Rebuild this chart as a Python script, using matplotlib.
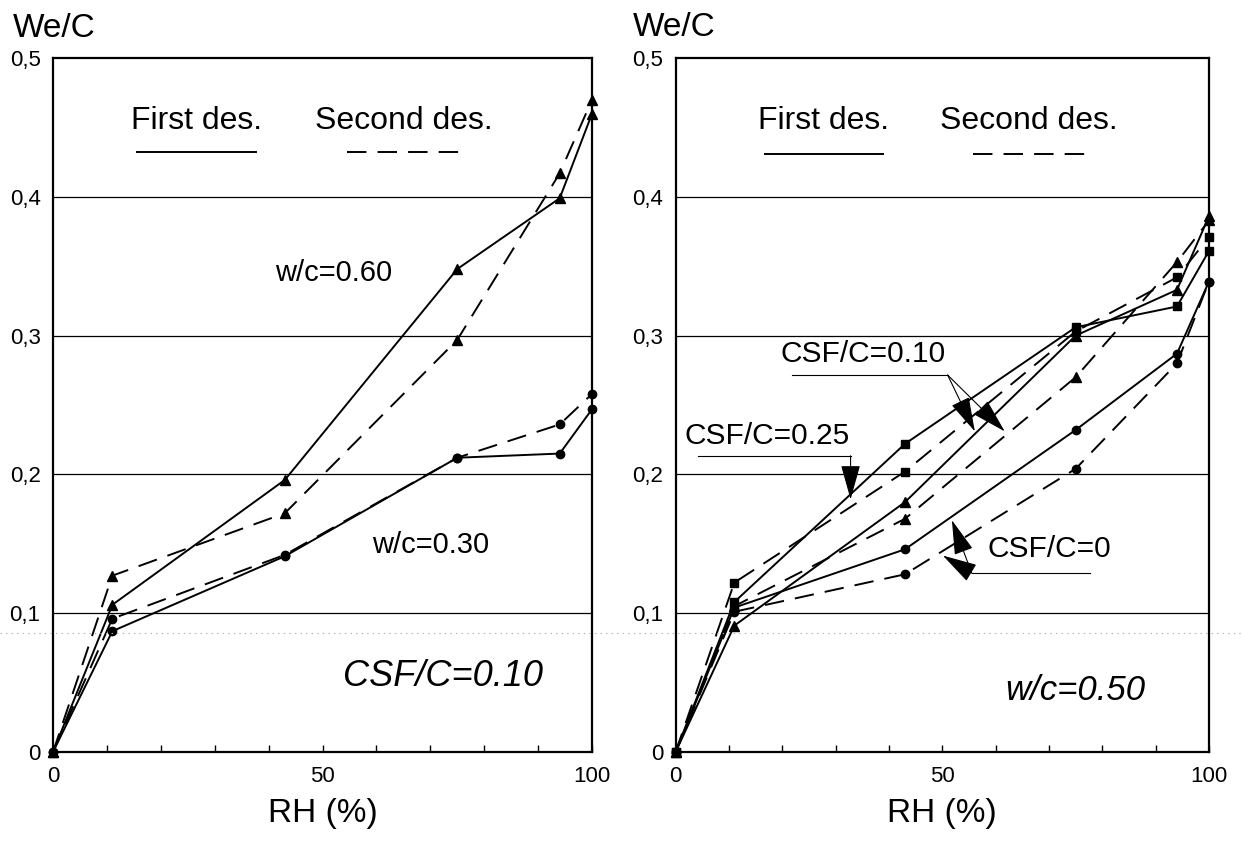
import matplotlib
matplotlib.use('Agg')
import matplotlib.pyplot as plt
from matplotlib.ticker import FixedLocator, MultipleLocator, FuncFormatter
from matplotlib.lines import Line2D

plt.rcParams['font.family'] = ['Liberation Sans', 'DejaVu Sans']
plt.rcParams['lines.scale_dashes'] = False

# left panel: CSF/C = 0.10, two w/c ratios
rh_l = [0, 11, 43, 75, 94, 100]
wc60_first = [0, 0.106, 0.196, 0.348, 0.399, 0.460]
wc60_second = [0, 0.127, 0.172, 0.297, 0.417, 0.470]
wc30_first = [0, 0.087, 0.141, 0.212, 0.215, 0.247]
wc30_second = [0, 0.096, 0.142, 0.212, 0.236, 0.258]

# right panel: w/c = 0.50, three CSF/C ratios
rh_r = [0, 11, 43, 75, 94, 100]
csf0_first = [0, 0.104, 0.146, 0.232, 0.287, 0.339]
csf0_second = [0, 0.101, 0.128, 0.204, 0.280, 0.339]
csf10_first = [0, 0.091, 0.180, 0.300, 0.333, 0.386]
csf10_second = [0, 0.105, 0.168, 0.270, 0.353, 0.383]
csf25_first = [0, 0.108, 0.222, 0.306, 0.321, 0.361]
csf25_second = [0, 0.122, 0.202, 0.303, 0.342, 0.371]

DASH = (0, (14, 8))


def draw(ax, x, y, marker, dashed, ms=7):
    ls = DASH if dashed else '-'
    ax.plot(x, y, color='black', lw=1.4, linestyle=ls, marker=marker,
            ms=ms, clip_on=False, zorder=3)


def setup(ax):
    ax.set_xlim(0, 100)
    ax.set_ylim(0, 0.5)
    ax.xaxis.set_major_locator(FixedLocator([0, 50, 100]))
    ax.xaxis.set_minor_locator(MultipleLocator(10))
    ax.tick_params(axis='x', which='both', direction='in', length=5,
                   width=1, labelsize=16, pad=10)
    ax.tick_params(axis='y', length=0, labelsize=16, pad=9)
    ax.set_yticks([0, 0.1, 0.2, 0.3, 0.4, 0.5])
    ax.yaxis.set_major_formatter(FuncFormatter(
        lambda v, p: '0' if v == 0 else f'{v:.1f}'.replace('.', ',')))
    for g in [0.1, 0.2, 0.3, 0.4]:
        ax.axhline(g, color='black', lw=0.9, zorder=1)
    for s in ax.spines.values():
        s.set_linewidth(1.6)
    ax.set_xlabel('RH (%)', fontsize=24, labelpad=8)


def legend_head(ax, x1, x2, y_txt, y_line):
    ax.text(x1, y_txt, 'First des.', fontsize=23, ha='center', va='center')
    ax.text(x2, y_txt, 'Second des.', fontsize=23, ha='center', va='center')
    ax.plot([x1 - 11, x1 + 11], [y_line, y_line], color='black', lw=1.4)
    ax.plot([x2 - 10.5, x2 + 10.5], [y_line, y_line], color='black', lw=1.4,
            linestyle=DASH)


fig = plt.figure(figsize=(12.42, 8.42), dpi=100)
ax1 = fig.add_axes([0.0427, 0.107, 0.434, 0.824])
ax2 = fig.add_axes([0.544, 0.107, 0.4294, 0.824])

# ---- left
setup(ax1)
draw(ax1, rh_l, wc60_first, '^', False)
draw(ax1, rh_l, wc60_second, '^', True)
draw(ax1, rh_l, wc30_first, 'o', False, ms=6)
draw(ax1, rh_l, wc30_second, 'o', True, ms=6)
legend_head(ax1, 26.6, 65.1, 0.455, 0.432)
ax1.text(52, 0.345, 'w/c=0.60', fontsize=21, ha='center', va='center')
ax1.text(70, 0.149, 'w/c=0.30', fontsize=21, ha='center', va='center')
ax1.text(72.3, 0.054, 'CSF/C=0.10', fontsize=26, style='italic',
         ha='center', va='center')

# ---- right
setup(ax2)
draw(ax2, rh_r, csf0_first, 'o', False, ms=6)
draw(ax2, rh_r, csf0_second, 'o', True, ms=6)
draw(ax2, rh_r, csf10_first, '^', False)
draw(ax2, rh_r, csf10_second, '^', True)
draw(ax2, rh_r, csf25_first, 's', False, ms=6)
draw(ax2, rh_r, csf25_second, 's', True, ms=6)
legend_head(ax2, 27.8, 66.3, 0.455, 0.431)
ax2.text(75, 0.044, 'w/c=0.50', fontsize=25, style='italic',
         ha='center', va='center')

arrow = dict(arrowstyle='-|>,head_length=1.0,head_width=0.28', color='black',
             lw=0.8, shrinkA=0, shrinkB=0, mutation_scale=22)
lead = dict(color='black', lw=0.8)

ax2.text(35.2, 0.287, 'CSF/C=0.10', fontsize=21.5, ha='center', va='center')
ax2.plot([21.8, 51.0], [0.2716, 0.2716], **lead)
ax2.annotate('', xy=(56.1, 0.231), xytext=(51.0, 0.2716), arrowprops=arrow)
ax2.annotate('', xy=(61.7, 0.231), xytext=(51.0, 0.2716), arrowprops=arrow)

ax2.text(17.2, 0.228, 'CSF/C=0.25', fontsize=21.5, ha='center', va='center')
ax2.plot([4.1, 32.8], [0.2134, 0.2134], **lead)
ax2.annotate('', xy=(32.8, 0.182), xytext=(32.8, 0.2134), arrowprops=arrow)

ax2.text(70, 0.146, 'CSF/C=0', fontsize=21.5, ha='center', va='center')
ax2.plot([55.5, 77.7], [0.129, 0.129], **lead)
ax2.annotate('', xy=(50.1, 0.1415), xytext=(55.5, 0.129), arrowprops=arrow)
ax2.annotate('', xy=(51.8, 0.167), xytext=(55.5, 0.129), arrowprops=arrow)

# y axis titles
fig.text(13 / 1242, 1 - 37 / 842, 'We/C', fontsize=24, va='baseline')
fig.text(633 / 1242, 1 - 36 / 842, 'We/C', fontsize=24, va='baseline')

# faint scan line
fig.add_artist(Line2D([0, 1], [1 - 633 / 842] * 2, transform=fig.transFigure,
                      color='#b0b0b0', lw=0.8, linestyle=(0, (1, 3))))

fig.savefig('out.png', dpi=100)
